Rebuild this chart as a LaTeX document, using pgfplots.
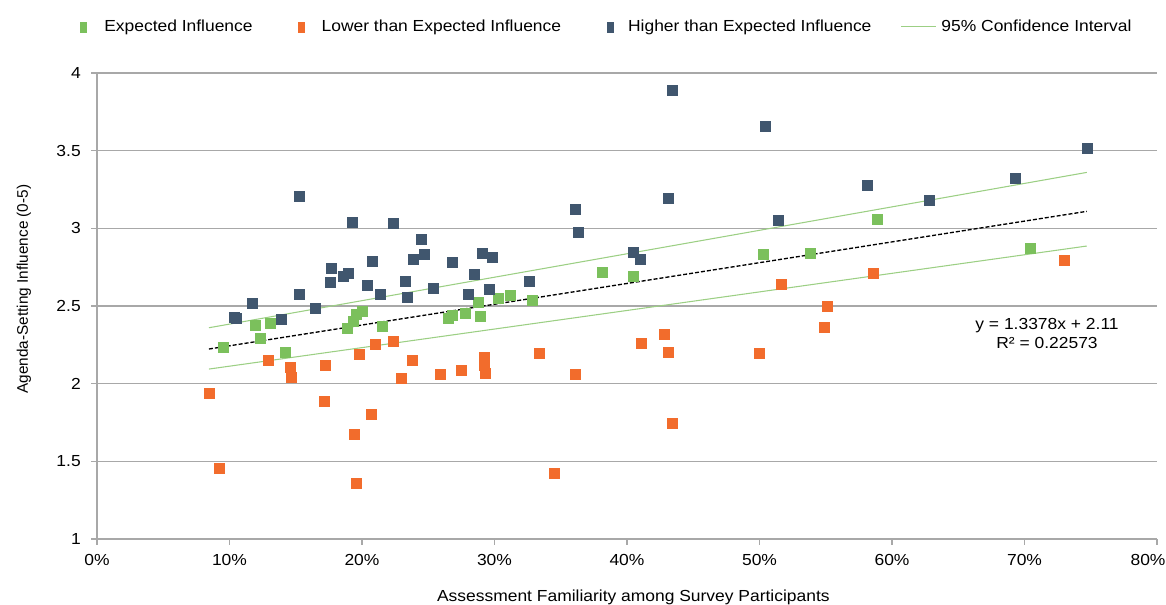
\documentclass[border=0pt]{standalone}
\usepackage{fontspec}
\setmainfont{Liberation Sans}[FakeStretch=1.09]
\newfontfamily\plainfont{Liberation Sans}
\usepackage{pgfplots}
\pgfplotsset{compat=1.18}
\definecolor{cgreen}{HTML}{7BC05C}
\definecolor{corange}{HTML}{F26C2C}
\definecolor{cblue}{HTML}{40566E}
\definecolor{cci}{HTML}{9CCF84}
\definecolor{cgrid}{HTML}{A8A8A8}
\newcommand{\fs}{\fontsize{12pt}{14pt}\selectfont}
\begin{document}
\begin{tikzpicture}[font=\fs]
\begin{axis}[
  name=ax,
  scale only axis, width=795pt, height=349.5pt,
  xmin=0, xmax=80, ymin=1, ymax=4,
  axis x line*=bottom, axis y line*=left,
  axis line style={cgrid, line width=1.1pt, -},
  xtick={0,10,20,30,40,50,60,70,80},
  xticklabels={0\%,10\%,20\%,30\%,40\%,50\%,60\%,70\%,\hspace*{-13.5pt}80\%},
  ytick={1,1.5,2,2.5,3,3.5,4},
  yticklabels={1,1.5,2,2.5,3,3.5,4},
  ymajorgrids, grid style={cgrid, line width=1.1pt},
  tick align=outside, major tick length=4.5pt,
  tick style={cgrid, line width=1pt},
  /pgf/number format/assume math mode=true,
  tick label style={font=\fs},
  xticklabel style={anchor=base, inner sep=0pt, yshift=-15.75pt},
  yticklabel style={anchor=east, inner sep=0pt, xshift=-7.5pt},
  xlabel={Assessment Familiarity among Survey Participants},
  ylabel={Agenda-Setting Influence (0-5)},
  xlabel style={at={(axis description cs:0.506,-0.1331)}, anchor=base, font=\fs},
  ylabel style={at={(axis description cs:-0.0651,0.536)}, anchor=base, font=\plainfont\fontsize{11.5pt}{13pt}\selectfont},
  legend columns=4, legend cell align=left,
  legend style={draw=none, fill=none, inner sep=0pt, outer sep=0pt,
    nodes={inner sep=0pt}, font=\fs,
    at={(axis description cs:-0.0160,1.099)}, anchor=west},
]
\addplot[only marks, mark=square*, mark size=3.75pt, color=cgreen,
  legend image code/.code={\path[draw=none,fill=none] (0,-5pt) rectangle (18pt,5pt); \fill[cgreen] (0,-3.75pt) rectangle (4.5pt,3.75pt);}]
  table {
9.53 2.234
11.97 2.375
12.34 2.292
13.1 2.392
14.2 2.20
18.9 2.354
19.33 2.399
19.58 2.446
20.0 2.467
21.5 2.37
26.5 2.424
26.8 2.44
27.8 2.453
28.8 2.523
28.9 2.435
30.3 2.549
31.2 2.57
32.85 2.534
38.1 2.714
40.5 2.69
50.3 2.835
53.8 2.839
58.9 3.058
70.4 2.873
};
\addlegendentry{Expected Influence}
\addplot[only marks, mark=square*, mark size=3.75pt, color=corange,
  legend image code/.code={\path[draw=none,fill=none] (0,-5pt) rectangle (51.75pt,5pt); \fill[corange] (34.5pt,-3.75pt) rectangle (39pt,3.75pt);}]
  table {
8.47 1.937
9.2 1.455
12.92 2.152
14.55 2.105
14.68 2.038
17.15 1.886
17.25 2.118
19.38 1.677
19.6 1.36
19.76 2.19
20.7 1.804
21.0 2.255
22.35 2.276
23.0 2.034
23.83 2.152
25.9 2.06
27.5 2.086
29.2 2.173
29.26 2.12
29.3 2.066
33.4 2.197
34.5 1.426
36.1 2.06
41.1 2.26
42.8 2.32
43.15 2.20
43.4 1.748
49.95 2.195
51.66 2.64
54.9 2.364
55.1 2.50
58.6 2.71
73.0 2.796
};
\addlegendentry{Lower than Expected Influence}
\addplot[only marks, mark=square*, mark size=3.75pt, color=cblue,
  legend image code/.code={\path[draw=none,fill=none] (0,-5pt) rectangle (50.25pt,5pt); \fill[cblue] (34.5pt,-3.75pt) rectangle (39pt,3.75pt);}]
  table {
10.35 2.43
10.5 2.42
11.74 2.52
13.9 2.414
15.26 3.208
15.26 2.573
16.5 2.485
17.57 2.65
17.65 2.74
18.6 2.69
18.95 2.71
19.25 3.036
20.4 2.633
20.8 2.79
21.4 2.573
22.35 3.03
23.3 2.656
23.4 2.558
23.85 2.80
24.5 2.93
24.7 2.835
25.4 2.616
26.8 2.78
28.05 2.573
28.5 2.704
29.1 2.84
29.6 2.61
29.86 2.813
32.6 2.656
36.1 3.124
36.35 2.976
40.5 2.843
41.0 2.804
43.15 3.193
43.4 3.89
50.45 3.66
51.45 3.05
58.1 3.277
62.8 3.18
69.3 3.324
74.7 3.513
};
\addlegendentry{Higher than Expected Influence}
\addplot[cci, line width=0.8pt,
  legend image code/.code={\path[draw=none,fill=none] (0,-5pt) rectangle (52.5pt,5pt); \draw[cci, line width=0.8pt] (22.5pt,0) -- (48.75pt,0);}]
  coordinates {(8.45,2.36) (74.7,3.36)};
\addlegendentry{95\% Confidence Interval}
\addplot[cci, line width=0.8pt, forget plot] coordinates {(8.45,2.094) (74.7,2.886)};
\addplot[black, line width=1pt, dash pattern=on 3pt off 1.5pt, forget plot]
  coordinates {(8.45,2.2230) (74.7,3.1093)};
\node[anchor=base, font=\fs] at (axis cs:71.7,2.347) {y = 1.3378x + 2.11};
\node[anchor=base, font=\fs] at (axis cs:71.7,2.225) {R² = 0.22573};
\end{axis}
\pgfresetboundingbox
\path[use as bounding box] (-72.75pt,-49.5pt) rectangle (801.75pt,404.25pt);
\end{tikzpicture}
\end{document}
